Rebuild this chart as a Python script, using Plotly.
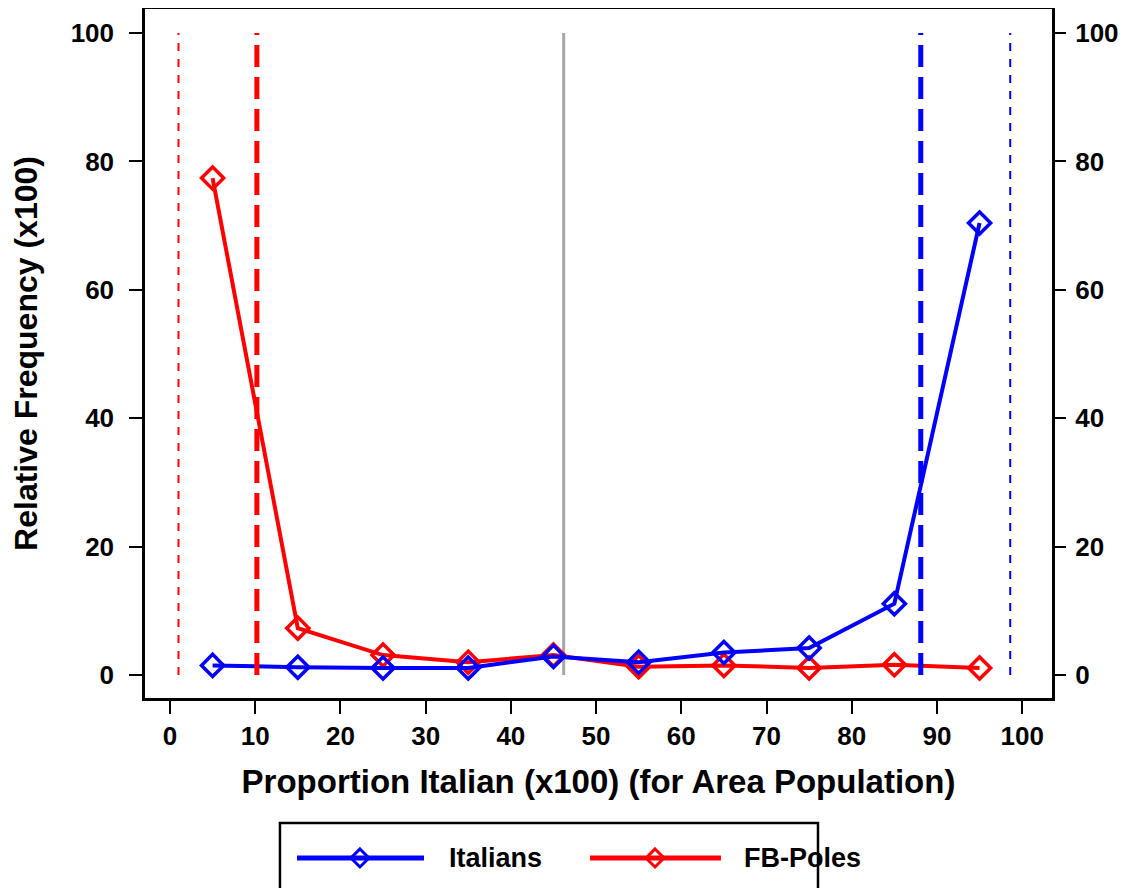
import plotly.graph_objects as go

# ---- data ----
bins = [5, 15, 25, 35, 45, 55, 65, 75, 85, 95]
italians = [1.5, 1.2, 1.1, 1.1, 2.9, 2.0, 3.5, 4.2, 11.1, 70.4]
fb_poles = [77.4, 7.3, 3.1, 2.0, 3.1, 1.3, 1.5, 1.1, 1.6, 1.1]
x_ticks = [0, 10, 20, 30, 40, 50, 60, 70, 80, 90, 100]
y_ticks = [0, 20, 40, 60, 80, 100]
# reference vertical lines: (x value, colour, style)
ref_lines = [
    (1.0, "red", "dot"),
    (10.2, "red", "dash"),
    (46.2, "#a6a6a6", "solid"),
    (88.1, "blue", "dash"),
    (98.6, "blue", "dot"),
]
series_names = ["Italians", "FB-Poles"]
series_colors = ["blue", "red"]

FONT = "Liberation Sans, Arial, sans-serif"

fig = go.Figure()

fig.add_trace(go.Scatter(
    x=bins, y=fb_poles, name=series_names[1], mode="lines+markers",
    line=dict(color="red", width=4),
    marker=dict(symbol="diamond-open", size=17, color="red", line=dict(width=3.5, color="red")),
    showlegend=False,
))
fig.add_trace(go.Scatter(
    x=bins, y=italians, name=series_names[0], mode="lines+markers",
    line=dict(color="blue", width=4),
    marker=dict(symbol="diamond-open", size=17, color="blue", line=dict(width=3.5, color="blue")),
    showlegend=False,
))
# empty trace so the right-hand axis is drawn
fig.add_trace(go.Scatter(x=[], y=[], yaxis="y2", showlegend=False, hoverinfo="skip"))

shapes = []
for xv, col, style in ref_lines:
    layer = "above"
    if style == "dot":
        dash, w = "8px,8px", 2
    elif style == "dash":
        dash, w = "22px,10px", 5
    else:
        dash, w, layer = "solid", 3, "below"
    shapes.append(dict(type="line", xref="x", yref="y", x0=xv, x1=xv, y0=0, y1=100,
                       line=dict(color=col, width=w, dash=dash), layer=layer))

# legend (drawn as decoration in paper coordinates)
shapes.append(dict(type="rect", xref="paper", yref="paper", x0=0.1488, x1=0.742,
                   y0=-0.285, y1=-0.1814, line=dict(color="black", width=2.5)))
leg_y = -0.2322
leg_items = [
    (0.1676, 0.3076, 0.2370, 0.333, series_names[0], series_colors[0]),
    (0.4906, 0.6350, 0.5623, 0.6582, series_names[1], series_colors[1]),
]
annotations = []
for x0, x1, xm, xt, name, col in leg_items:
    shapes.append(dict(type="line", xref="paper", yref="paper", x0=x0, x1=x1,
                       y0=leg_y, y1=leg_y, line=dict(color=col, width=5)))
    shapes.append(dict(type="path", xref="paper", yref="paper",
                       xsizemode="pixel", ysizemode="pixel", xanchor=xm, yanchor=leg_y,
                       path="M 0 9 L 9 0 L 0 -9 L -9 0 Z",
                       line=dict(color=col, width=3), fillcolor="rgba(0,0,0,0)"))
    annotations.append(dict(xref="paper", yref="paper", x=xt, y=leg_y, text=name,
                            showarrow=False, xanchor="left", yanchor="middle",
                            font=dict(family=FONT, size=27, color="black", weight="bold")))

axis_common = dict(
    ticks="outside", ticklen=13, tickwidth=2, tickcolor="black",
    showgrid=False, zeroline=False, automargin=False,
    tickfont=dict(family=FONT, size=26, color="black", weight="bold"),
)
box = dict(showline=True, linecolor="black", linewidth=2.5, mirror=True)

# page has an 8px body margin, so the figure is sized 8px smaller than the window
fig.update_layout(
    width=1125, height=880,
    margin=dict(l=137, r=81, t=1, b=190),
    plot_bgcolor="white", paper_bgcolor="white",
    font=dict(family=FONT, color="black"),
    shapes=shapes, annotations=annotations,
    xaxis=dict(range=[-2.93, 103.5], tickvals=x_ticks, ticktext=[str(t) for t in x_ticks],
               title=dict(text="Proportion Italian (x100) (for Area Population)",
                          font=dict(family=FONT, size=33, weight="bold"), standoff=20),
               **axis_common, **box),
    yaxis=dict(range=[-3.58, 103.74], tickvals=y_ticks, ticktext=[str(t) for t in y_ticks],
               ticklabelstandoff=10,
               title=dict(text="Relative Frequency (x100)",
                          font=dict(family=FONT, size=32, weight="bold"), standoff=24),
               **axis_common, **box),
    yaxis2=dict(range=[-3.58, 103.74], tickvals=y_ticks, ticktext=[str(t) for t in y_ticks],
                overlaying="y", side="right", showline=False, ticklabelstandoff=4,
                **axis_common),
)

fig.write_html("out.html")
